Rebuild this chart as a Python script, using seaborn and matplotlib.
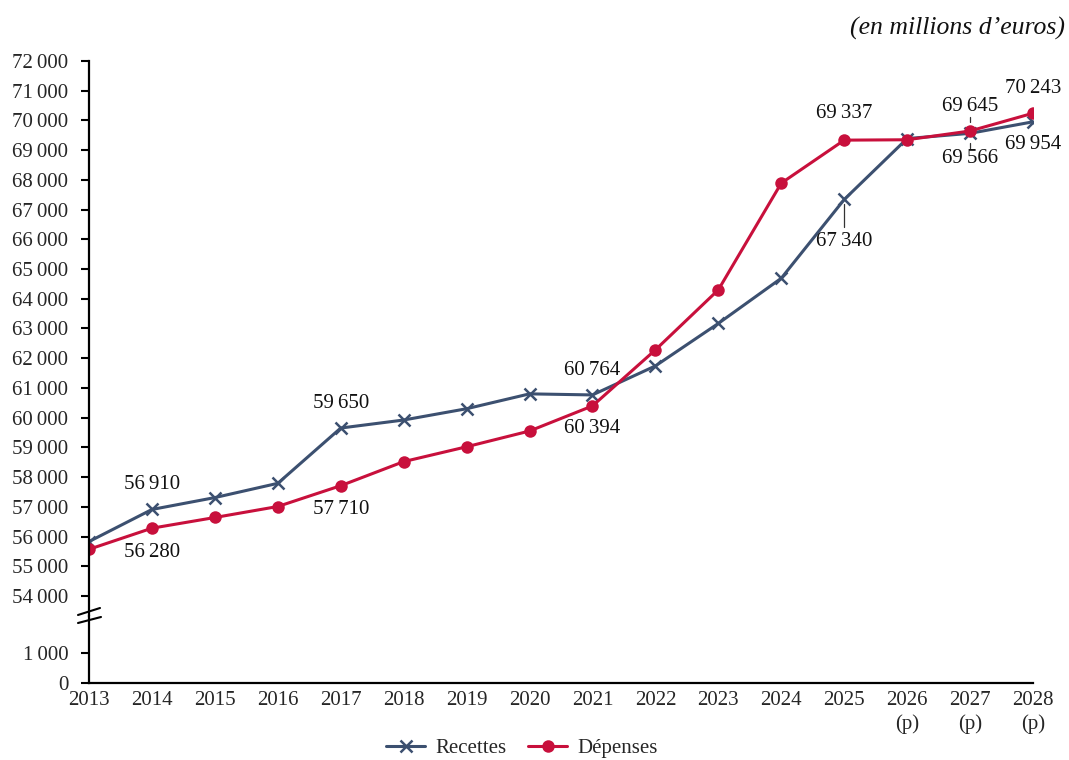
import numpy as np
import pandas as pd
import seaborn as sns
import matplotlib
matplotlib.use("Agg")
import matplotlib.pyplot as plt
from matplotlib.lines import Line2D
from matplotlib.ticker import FuncFormatter, FixedLocator

# ---- data (millions d'euros) ----
years = ["2013", "2014", "2015", "2016", "2017", "2018", "2019", "2020",
         "2021", "2022", "2023", "2024", "2025", "2026\n(p)", "2027\n(p)", "2028\n(p)"]
recettes = [55830, 56910, 57310, 57790, 59650, 59920, 60300, 60800,
            60764, 61740, 63170, 64690, 67340, 69390, 69566, 69954]
depenses = [55570, 56280, 56640, 57010, 57710, 58520, 59020, 59550,
            60394, 62280, 64300, 67890, 69337, 69350, 69645, 70243]
upper_ticks = list(range(54000, 72001, 1000))
lower_ticks = [0, 1000]

C_REC = "#3c5070"
C_DEP = "#c8103c"
FS = 15

sns.set_style("ticks")
plt.rcParams["font.family"] = ["Liberation Serif", "DejaVu Serif"]
plt.rcParams["font.size"] = FS


def fmt(v):
    return f"{int(v):,}".replace(",", "\u2009")


df = pd.DataFrame({"x": np.arange(len(years)), "Recettes": recettes, "Dépenses": depenses})

W, H = 1069, 760
fig = plt.figure(figsize=(W / 100, H / 100), dpi=100)


def fx(px):
    return px / W


def fy(py):
    return 1 - py / H


left, right = 89, 1033
top_px, split_px, bottom_px = 61, 616, 683
ax_top = fig.add_axes([fx(left), fy(split_px), fx(right - left), (split_px - top_px) / H])
ax_bot = fig.add_axes([fx(left), fy(bottom_px), fx(right - left), (bottom_px - split_px) / H],
                      sharex=ax_top)

sns.lineplot(data=df, x="x", y="Recettes", ax=ax_top, color=C_REC, linewidth=2.2,
             marker="x", markersize=8.5, markeredgewidth=1.8, markeredgecolor=C_REC,
             label="Recettes", sort=False)
sns.lineplot(data=df, x="x", y="Dépenses", ax=ax_top, color=C_DEP, linewidth=2.2,
             marker="o", markersize=9, markeredgewidth=0, markerfacecolor=C_DEP,
             markeredgecolor=C_DEP, label="Dépenses", sort=False)

# upper part of the broken scale
y_per_px = 1000 / 29.72
ax_top.set_ylim(72000 - (split_px - top_px) * y_per_px, 72000)
ax_top.yaxis.set_major_locator(FixedLocator(upper_ticks))
ax_top.yaxis.set_major_formatter(FuncFormatter(lambda v, p: fmt(v)))
ax_top.set_xlim(0, len(years) - 1)
for s in ["top", "right", "bottom"]:
    ax_top.spines[s].set_visible(False)
ax_top.tick_params(axis="x", bottom=False, labelbottom=False)
ax_top.set_xlabel("")
ax_top.set_ylabel("")

# lower part near zero
ax_bot.set_ylim(0, (bottom_px - split_px) / 30 * 1000)
ax_bot.yaxis.set_major_locator(FixedLocator(lower_ticks))
ax_bot.yaxis.set_major_formatter(FuncFormatter(lambda v, p: fmt(v)))
for s in ["top", "right"]:
    ax_bot.spines[s].set_visible(False)
ax_bot.set_xticks(np.arange(len(years)))
ax_bot.set_xticklabels(years, linespacing=1.25)
ax_bot.tick_params(axis="x", length=0, pad=6)

for ax in (ax_top, ax_bot):
    ax.set_facecolor("white")
    ax.tick_params(axis="y", length=6, width=1.5, pad=9, color="black", labelsize=FS)
    ax.tick_params(axis="x", labelsize=FS)
    for s in ["left", "bottom"]:
        ax.spines[s].set_color("black")
        ax.spines[s].set_linewidth(1.6)
    ax.grid(False)
ax_top.spines["left"].set_bounds(ax_top.get_ylim()[0], 72000)

# axis break marks
for (x0, y0, x1, y1) in [(78, 615, 100, 608), (78, 623, 101, 617)]:
    fig.add_artist(Line2D([fx(x0), fx(x1)], [fy(y0), fy(y1)], color="black", lw=1.5))

fig.canvas.draw()


def label(series, i, dy, lead=None):
    """Write the value next to its point, optionally with a short leader line."""
    v = series[i]
    ax_top.annotate(fmt(v), xy=(i, v), xytext=(0, dy), textcoords="offset pixels",
                    ha="center", va="center", fontsize=FS, color="#111111")
    if lead is not None:
        a, b = lead
        px, py = ax_top.transData.transform((i, v))
        fig.add_artist(Line2D([px / W, px / W], [(py + a) / H, (py + b) / H],
                              color="#333333", lw=0.9))


label(recettes, 1, 25)
label(depenses, 1, -24)
label(recettes, 4, 25)
label(depenses, 4, -24)
label(recettes, 8, 24)
label(depenses, 8, -23)
label(recettes, 12, -42, lead=(-5, -28))
label(depenses, 12, 27)
label(depenses, 14, 24, lead=(9, 14))
label(recettes, 14, -25, lead=(-10, -15))
label(depenses, 15, 25)
label(recettes, 15, -23)

# unit note
fig.text(fx(1065), fy(28), "(en millions d\u2019euros)", ha="right", va="center",
         fontsize=18.5, style="italic", color="#111111")

# legend
handles, labels = ax_top.get_legend_handles_labels()
ax_top.get_legend().remove()
fig.legend(handles, labels, loc="center", bbox_to_anchor=(fx(522), fy(748)), ncol=2,
           frameon=False, fontsize=FS, handlelength=1.9, handletextpad=0.5,
           columnspacing=1.0)

fig.savefig("out.png", dpi=100, facecolor="white")
